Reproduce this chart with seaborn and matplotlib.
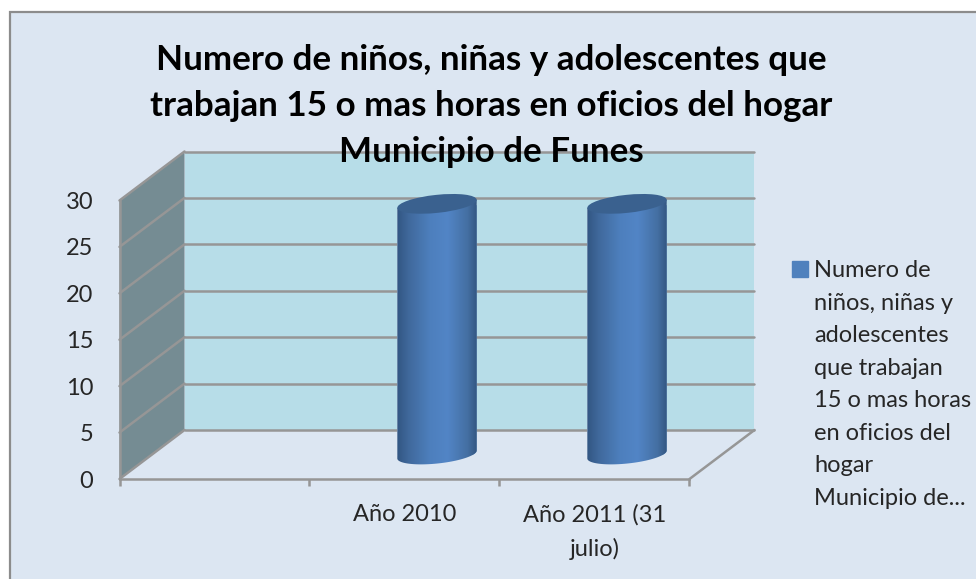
import numpy as np
import pandas as pd
import matplotlib
matplotlib.use("Agg")
import matplotlib.pyplot as plt
import seaborn as sns
from matplotlib.patches import Rectangle, Polygon, Patch, Ellipse
from matplotlib.transforms import Affine2D, IdentityTransform
from matplotlib.colors import LinearSegmentedColormap
from matplotlib.legend_handler import HandlerPatch

categories = ["", "Año 2010", "Año 2011 (31\njulio)"]
values = [np.nan, 27, 27]
y_ticks = [0, 5, 10, 15, 20, 25, 30]
series_label = ("Numero de\nniños, niñas y\nadolescentes\nque trabajan\n"
                "15 o mas horas\nen oficios del\nhogar\nMunicipio de...")
title_text = ("Numero de niños, niñas y adolescentes que\n"
              "trabajan 15 o mas horas en oficios del hogar\n"
              "Municipio de Funes")

W, H = 976, 579
BG = "#dce6f2"
WALL = "#b7dde8"
SIDE = "#758c93"
GRID = "#969696"
TXT = "#262626"
FONT = "Lato"
FS = 17

sns.set_style("white")
plt.rcParams["font.family"] = [FONT, "DejaVu Sans"]

fig = plt.figure(figsize=(W / 100, H / 100), dpi=100, facecolor="white")
fig.add_artist(Rectangle((10 / W, 1 - 12 / H), 1.2, -1.2, transform=fig.transFigure,
                         fc=BG, ec="#8c8c8c", lw=1.6, zorder=-5))

left, right, top, bottom = 119.5, 689.5, 200.5, 479
ax = fig.add_axes([left / W, 1 - bottom / H, (right - left) / W, (bottom - top) / H])
ax.patch.set_visible(False)

df = pd.DataFrame({"cat": categories, "val": values})
sns.barplot(data=df, x="cat", y="val", order=categories, color="#4f81bd",
            saturation=1, width=0.42, ax=ax, zorder=5)
bars = [b for b in ax.patches if b.get_height() > 0]
ax.set_xlim(-0.5, len(categories) - 0.5)
ax.set_ylim(0, 30)
ax.set_xlabel("")
ax.set_ylabel("")

DX, DY = 65, 49
back = ax.transData + Affine2D().translate(DX, DY)
mid = ax.transData + Affine2D().translate(DX / 2, DY / 2)
x0, x1 = ax.get_xlim()

# back wall, side wall, floor
ax.add_patch(Rectangle((x0, 0), x1 - x0, 30, transform=back, fc=WALL, ec="none",
                       clip_on=False, zorder=1))
p0 = ax.transData.transform((x0, 0))
p30 = ax.transData.transform((x0, 30))
pr = ax.transData.transform((x1, 0))
d = np.array([DX, DY])
ax.add_patch(Polygon([p0, p30, p30 + d, p0 + d], closed=True, transform=IdentityTransform(),
                     fc=SIDE, ec="none", clip_on=False, zorder=1))
lw = 1.8
for t in y_ticks:
    a = ax.transData.transform((x0, t))
    ax.plot([a[0], a[0] + DX], [a[1], a[1] + DY], transform=IdentityTransform(),
            color=GRID, lw=lw, clip_on=False, zorder=2, solid_capstyle="round")
    ax.plot([x0, x1], [t, t], transform=back, color=GRID, lw=lw, clip_on=False, zorder=2)
ax.plot([pr[0], pr[0] + DX], [pr[1], pr[1] + DY], transform=IdentityTransform(),
        color=GRID, lw=lw, clip_on=False, zorder=2)

# cylinders, built on the bars seaborn drew
cmap = LinearSegmentedColormap.from_list("cyl", [
    (0, "#2d4f7a"), (0.18, "#40699c"), (0.42, "#4d7fbd"), (0.62, "#5285c6"),
    (0.85, "#446fa2"), (1, "#2c4c74")])
grad = np.linspace(0, 1, 256).reshape(1, -1)
phi = np.deg2rad(6)
u = np.array([np.cos(phi), np.sin(phi)])
v = np.array([-np.sin(phi), np.cos(phi)])
minor = 9.0


def ell(c, a, t):
    return c + a * np.cos(t)[:, None] * u + minor * np.sin(t)[:, None] * v


for bar in bars:
    h = bar.get_height()
    bx, bw = bar.get_x(), bar.get_width()
    bar.set_transform(mid)
    c0 = mid.transform((bx + bw / 2, 0))
    c1 = mid.transform((bx + bw / 2, h))
    a = (mid.transform((bx + bw, 0))[0] - mid.transform((bx, 0))[0]) / 2
    arc = ell(c0, a, np.linspace(0, -np.pi, 60))
    top_r = ell(c1, a, np.array([0.0]))[0]
    top_l = ell(c1, a, np.array([np.pi]))[0]
    body = Polygon(np.vstack([[top_l, top_r], arc]), closed=True,
                   transform=IdentityTransform(), fc="none", ec="none")
    ax.add_patch(body)
    body.set_clip_on(False)
    bar.set_clip_box(fig.bbox)
    bar.set_clip_path(body)
    im = ax.imshow(grad, extent=(bx - 0.02, bx + bw + 0.02, -5, h + 5), transform=mid,
                   cmap=cmap, aspect="auto", zorder=6, interpolation="bilinear")
    im.set_clip_box(fig.bbox)
    im.set_clip_path(body)
    ax.add_patch(Ellipse(c1, 2 * a, 2 * minor, angle=np.rad2deg(phi),
                         transform=IdentityTransform(), fc="#3a618f", ec="none",
                         clip_on=False, zorder=7))

ax.set_xlim(x0, x1)
ax.set_ylim(0, 30)

for s in ["top", "right"]:
    ax.spines[s].set_visible(False)
for s in ["left", "bottom"]:
    ax.spines[s].set_color(GRID)
    ax.spines[s].set_linewidth(lw)
ax.set_yticks(y_ticks)
ax.set_xticks(range(len(categories)))
ax.set_xticklabels(categories)
ax.set_xticks(np.arange(len(categories) + 1) - 0.5, minor=True)
ax.tick_params(axis="y", length=5, width=lw, color=GRID, pad=14, labelsize=FS, labelcolor=TXT)
ax.tick_params(axis="x", which="major", length=0, pad=18, labelsize=FS, labelcolor=TXT)
ax.tick_params(axis="x", which="minor", length=5, width=lw, color=GRID, bottom=True)
for lab in ax.get_xticklabels():
    lab.set_linespacing(1.7)

# title
fig.text(491 / W, 1 - 106 / H, title_text, ha="center", va="center", fontsize=25.2,
         fontweight="bold", color="black", linespacing=1.52, zorder=10)

# legend
LINE_PT = 23.4
N_BELOW = series_label.count("\n")


def square(legend=None, orig_handle=None, xdescent=0, ydescent=0, width=0, height=0, fontsize=0):
    return Rectangle((-xdescent, -ydescent + N_BELOW / 2 * LINE_PT + 1.3), width, width)


leg = fig.legend(
    handles=[Patch(color="#4f81bd", label=series_label)],
    loc="upper left", bbox_to_anchor=(792 / W, 1 - 260 / H), frameon=False,
    fontsize=FS, borderpad=0, borderaxespad=0, handlelength=0.68, handleheight=0.7,
    handletextpad=0.26,
    handler_map={Patch: HandlerPatch(patch_func=square)})
for t in leg.get_texts():
    t.set_linespacing(1.68)
    t.set_color(TXT)

fig.savefig("out.png", dpi=100, facecolor="white")
